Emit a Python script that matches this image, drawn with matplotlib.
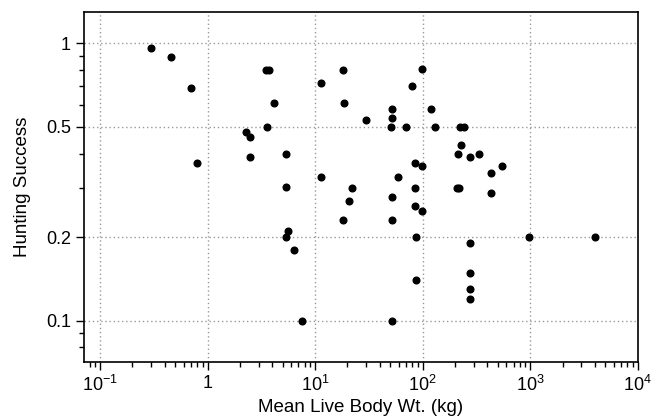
import matplotlib
matplotlib.use("Agg")
import matplotlib.pyplot as plt
from matplotlib.ticker import FixedLocator, FixedFormatter, NullFormatter

plt.rcParams['font.family'] = ['Liberation Sans', 'DejaVu Sans']
plt.rcParams['mathtext.fontset'] = 'custom'
plt.rcParams['mathtext.rm'] = 'Liberation Sans'
plt.rcParams['mathtext.default'] = 'regular'

# mean live body weight (kg) vs hunting success
body_wt = [0.30, 0.455, 0.70, 0.80, 3.5, 3.7, 4.16, 3.6, 2.27, 2.48,
           2.5, 5.37, 5.4, 5.57, 5.37, 6.34, 7.62, 11.4, 11.4, 18.3,
           18.4, 29.8, 21.9, 20.8, 18.3, 98.9, 79.4, 51.6, 51.6, 50.5,
           69.8, 119, 129, 223, 245, 228, 214, 277, 336, 546,
           428, 428, 85.1, 98.9, 59.6, 84.6, 209, 216, 51.6, 85.1,
           99.5, 51.6, 86, 277, 980, 4050, 86, 277, 277, 277,
           51.6]
hunt_success = [0.96, 0.89, 0.69, 0.37, 0.80, 0.80, 0.61, 0.50, 0.478, 0.46,
                0.39, 0.40, 0.304, 0.21, 0.20, 0.18, 0.10, 0.72, 0.33, 0.80,
                0.61, 0.53, 0.30, 0.269, 0.23, 0.808, 0.70, 0.58, 0.54, 0.50,
                0.50, 0.58, 0.50, 0.50, 0.50, 0.43, 0.40, 0.39, 0.40, 0.36,
                0.34, 0.289, 0.37, 0.36, 0.33, 0.30, 0.30, 0.30, 0.28, 0.259,
                0.249, 0.23, 0.20, 0.19, 0.20, 0.20, 0.14, 0.149, 0.13, 0.12,
                0.10]

x_major = [0.1, 1, 10, 100, 1000, 10000]
x_labels = [r'$10^{-1}$', '1', r'$10^{1}$', r'$10^{2}$', r'$10^{3}$', r'$10^{4}$']
y_major = [0.1, 0.2, 0.5, 1]
y_labels = ['0.1', '0.2', '0.5', '1']
y_minor = [0.08, 0.09, 0.3, 0.4, 0.6, 0.7, 0.8, 0.9]

W, H = 662, 419
fig = plt.figure(figsize=(W / 100, H / 100), dpi=100)
ax = fig.add_axes([84 / W, 1 - 361.7 / H, (637.7 - 84) / W, (361.7 - 12) / H])

ax.plot(body_wt, hunt_success, 'o', color='black', ms=4.8, zorder=3)

ax.set_xscale('log')
ax.set_yscale('log')
ax.set_xlim(0.071, 10000)
ax.set_ylim(0.0711, 1.297)

ax.xaxis.set_major_locator(FixedLocator(x_major))
ax.xaxis.set_major_formatter(FixedFormatter(x_labels))
x_minor = [m * d for d in [0.01, 0.1, 1, 10, 100, 1000] for m in range(2, 10)]
ax.xaxis.set_minor_locator(FixedLocator(x_minor))
ax.xaxis.set_minor_formatter(NullFormatter())

ax.yaxis.set_major_locator(FixedLocator(y_major))
ax.yaxis.set_major_formatter(FixedFormatter(y_labels))
ax.yaxis.set_minor_locator(FixedLocator(y_minor))
ax.yaxis.set_minor_formatter(NullFormatter())

ax.tick_params(which='major', direction='out', length=5.8, width=1, labelsize=13, pad=3.5)
ax.tick_params(which='minor', direction='out', length=3.4, width=1)

ax.grid(True, which='major', linestyle=(0, (1, 2)), color='#999999', linewidth=1)
for s in ax.spines.values():
    s.set_linewidth(1.2)

ax.set_xlabel('Mean Live Body Wt. (kg)', fontsize=13.5, labelpad=3)
ax.set_ylabel('Hunting Success', fontsize=13.5, labelpad=11)

fig.savefig('out.png', dpi=100)
